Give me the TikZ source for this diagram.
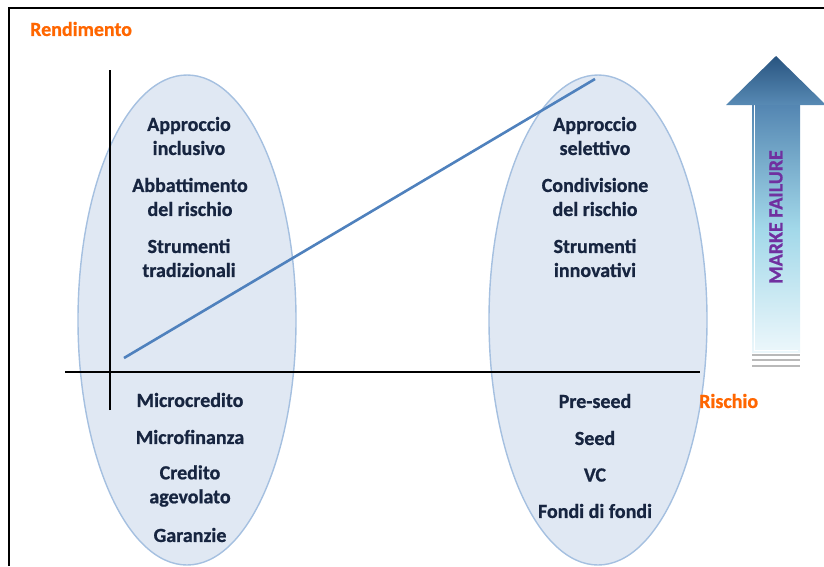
\documentclass[tikz,border=0pt]{standalone}
\usepackage{fontspec}
\setmainfont{Carlito}[BoldFont={Carlito Bold}, BoldFeatures={FakeBold=0.8}]
\usetikzlibrary{positioning,calc}
\definecolor{navy}{RGB}{23,37,64}
\definecolor{accent}{RGB}{255,102,0}
\definecolor{ellfill}{RGB}{224,232,243}
\definecolor{elldraw}{RGB}{165,192,224}
\definecolor{trend}{RGB}{79,129,189}
\definecolor{mfpurple}{RGB}{112,48,160}
\definecolor{headtop}{RGB}{40,84,128}
\definecolor{headbot}{RGB}{88,138,180}
\definecolor{shafttop}{RGB}{84,134,178}
\definecolor{shaftmid}{RGB}{162,216,233}
\definecolor{shaftbot}{RGB}{236,247,251}

\begin{document}
\begin{tikzpicture}[x=1pt, y=-1pt,
  item/.style={font=\fontsize{20}{24}\selectfont\bfseries, text=navy,
    align=center, inner sep=0pt},
  axislabel/.style={font=\fontsize{20}{22}\selectfont\bfseries, text=accent,
    anchor=west, inner sep=0pt}]
\useasboundingbox (0,0) rectangle (824,566);
\draw[line width=1.6pt] (9,566) -- (9,8) -- (824,8);
% the two groups
\draw[fill=ellfill, draw=elldraw, line width=1.4pt] (187,320)
  ellipse [x radius=109, y radius=245];
\draw[fill=ellfill, draw=elldraw, line width=1.4pt] (598,320)
  ellipse [x radius=109, y radius=245];
% axes
\coordinate (ytop) at (110,70);
\coordinate (ybot) at (110,410);
\coordinate (xleft) at (65,372);
\coordinate (xright) at (700,372);
\draw[line width=1.5pt] (ybot) -- (ytop);
\draw[line width=1.5pt] (xleft) -- (xright);
\coordinate (lo) at (124,358);
\coordinate (hi) at (595,79);
\draw[trend, line width=2.6pt] (lo) -- (hi);
\node[axislabel] (rend) at (30,29) {Rendimento};
\node[axislabel] (risk) at (699,401) {Rischio};
% left group
\node[item] (incl) at (189,136) {Approccio\\inclusivo};
\node[item] (abb) at (190,197) {Abbattimento\\del rischio};
\node[item] (trad) at (189,258) {Strumenti\\tradizionali};
\node[item] (micro) at (190,400) {Microcredito};
\node[item] (mfin) at (190,437) {Microfinanza};
\node[item] (cred) at (190,486) {Credito\\agevolato};
\node[item] (gar) at (190,535) {Garanzie};
% right group
\node[item] (sel) at (595,136) {Approccio\\selettivo};
\node[item] (cond) at (595,197) {Condivisione\\del rischio};
\node[item] (innov) at (595,258) {Strumenti\\innovativi};
\node[item] (pre) at (595,401) {Pre-seed};
\node[item] (seed) at (595,438) {Seed};
\node[item] (vc) at (595,475) {VC};
\node[item] (fof) at (595,511) {Fondi di fondi};
% market failure arrow
\shade[top color=shafttop, bottom color=shaftbot, middle color=shaftmid]
  (752,105) rectangle (800,352);
\draw[white, line width=1pt] (754,105) -- (754,350) -- (798,350);
\shade[top color=headtop, bottom color=headbot]
  (726,105) -- (776,56) -- (826,105) -- cycle;
\foreach \y in {355,360,366}
  \draw[gray!55, line width=1.6pt] (752,\y) -- (800,\y);
\node[rotate=90, font=\fontsize{20}{22}\selectfont\bfseries, text=mfpurple]
  (mf) at (776,217) {MARKE FAILURE};
\end{tikzpicture}
\end{document}
